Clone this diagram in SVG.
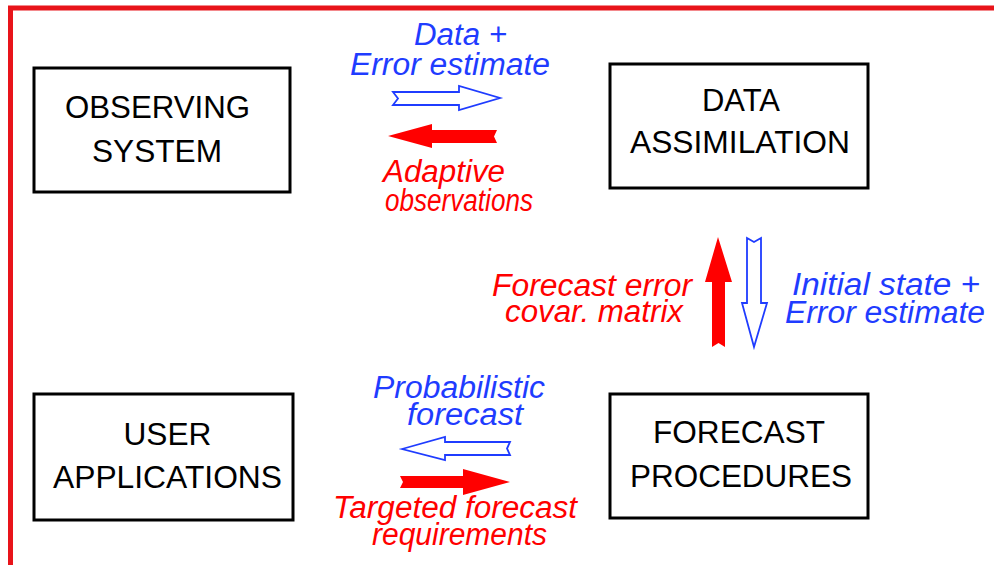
<svg xmlns="http://www.w3.org/2000/svg" width="994" height="565" viewBox="0 0 994 565">
<style>
.box{fill:#ffffff;stroke:#000000;stroke-width:3}
.nt{font-family:"Liberation Sans",Arial,sans-serif;font-size:31px;fill:#000000;text-anchor:middle}
.lb{font-family:"Liberation Sans",Arial,sans-serif;font-size:31px;font-style:italic;text-anchor:middle}
.blue{fill:#1f3cff}
.red{fill:#ff0000}
.ao{fill:#ffffff;stroke:#1f3cff;stroke-width:1.8;stroke-linejoin:miter}
.af{fill:#ff0000;stroke:none}
</style>
<rect width="994" height="565" fill="#ffffff"/>
<path d="M10.5 565 V8 H994" fill="none" stroke="#e8141a" stroke-width="5"/>
<g id="observing-system">
<rect class="box" x="34" y="68" width="256" height="124"/>
<text class="nt" x="157.5" y="118" textLength="185" lengthAdjust="spacingAndGlyphs">OBSERVING</text>
<text class="nt" x="157" y="162" textLength="130" lengthAdjust="spacingAndGlyphs">SYSTEM</text>
</g>
<g id="data-assimilation">
<rect class="box" x="610" y="64" width="258" height="124"/>
<text class="nt" x="741" y="111" textLength="78" lengthAdjust="spacingAndGlyphs">DATA</text>
<text class="nt" x="740" y="153" textLength="220" lengthAdjust="spacingAndGlyphs">ASSIMILATION</text>
</g>
<g id="user-applications">
<rect class="box" x="34" y="394" width="259" height="126"/>
<text class="nt" x="167.5" y="445" textLength="88" lengthAdjust="spacingAndGlyphs">USER</text>
<text class="nt" x="167.5" y="488" textLength="229" lengthAdjust="spacingAndGlyphs">APPLICATIONS</text>
</g>
<g id="forecast-procedures">
<rect class="box" x="610" y="394" width="258" height="124"/>
<text class="nt" x="739" y="443" textLength="172" lengthAdjust="spacingAndGlyphs">FORECAST</text>
<text class="nt" x="741" y="487" textLength="222" lengthAdjust="spacingAndGlyphs">PROCEDURES</text>
</g>
<g id="connectors">
<path class="ao" d="M393 92 H459 V86 L500 98 L459 110 V105 H393 L398 98.5 Z"/>
<path class="af" d="M388 136 L432 124 V130 H497 L494 136.5 L497 143 H432 V148 Z"/>
<path class="af" d="M718 237 L732 282 H725 V347 L718.5 343 L712 347 V282 H705 Z"/>
<path class="ao" d="M747 238 L754 242 L761 238 V303 H767 L754 347 L742 303 H747 Z"/>
<path class="ao" d="M402 449 L445 437 V442 H510 L507 448.5 L510 455 H445 V460 Z"/>
<path class="af" d="M400 476 H463 V469 L510 482 L463 495 V488 H400 L403 482 Z"/>
</g>
<g id="labels">
<text class="lb blue" x="460.5" y="45" textLength="93" lengthAdjust="spacingAndGlyphs">Data +</text>
<text class="lb blue" x="450" y="75" textLength="200" lengthAdjust="spacingAndGlyphs">Error estimate</text>
<text class="lb red" x="444" y="182" textLength="122" lengthAdjust="spacingAndGlyphs">Adaptive</text>
<text class="lb red" x="459" y="211" textLength="148" lengthAdjust="spacingAndGlyphs">observations</text>
<text class="lb red" x="592" y="296" textLength="200" lengthAdjust="spacingAndGlyphs">Forecast error</text>
<text class="lb red" x="594" y="322" textLength="178" lengthAdjust="spacingAndGlyphs">covar. matrix</text>
<text class="lb blue" x="886" y="295" textLength="188" lengthAdjust="spacingAndGlyphs">Initial state +</text>
<text class="lb blue" x="885" y="323" textLength="200" lengthAdjust="spacingAndGlyphs">Error estimate</text>
<text class="lb blue" x="459" y="398" textLength="172" lengthAdjust="spacingAndGlyphs">Probabilistic</text>
<text class="lb blue" x="465" y="425" textLength="116" lengthAdjust="spacingAndGlyphs">forecast</text>
<text class="lb red" x="455" y="518" textLength="244" lengthAdjust="spacingAndGlyphs">Targeted forecast</text>
<text class="lb red" x="459.5" y="545" textLength="175" lengthAdjust="spacingAndGlyphs">requirements</text>
</g>
</svg>
